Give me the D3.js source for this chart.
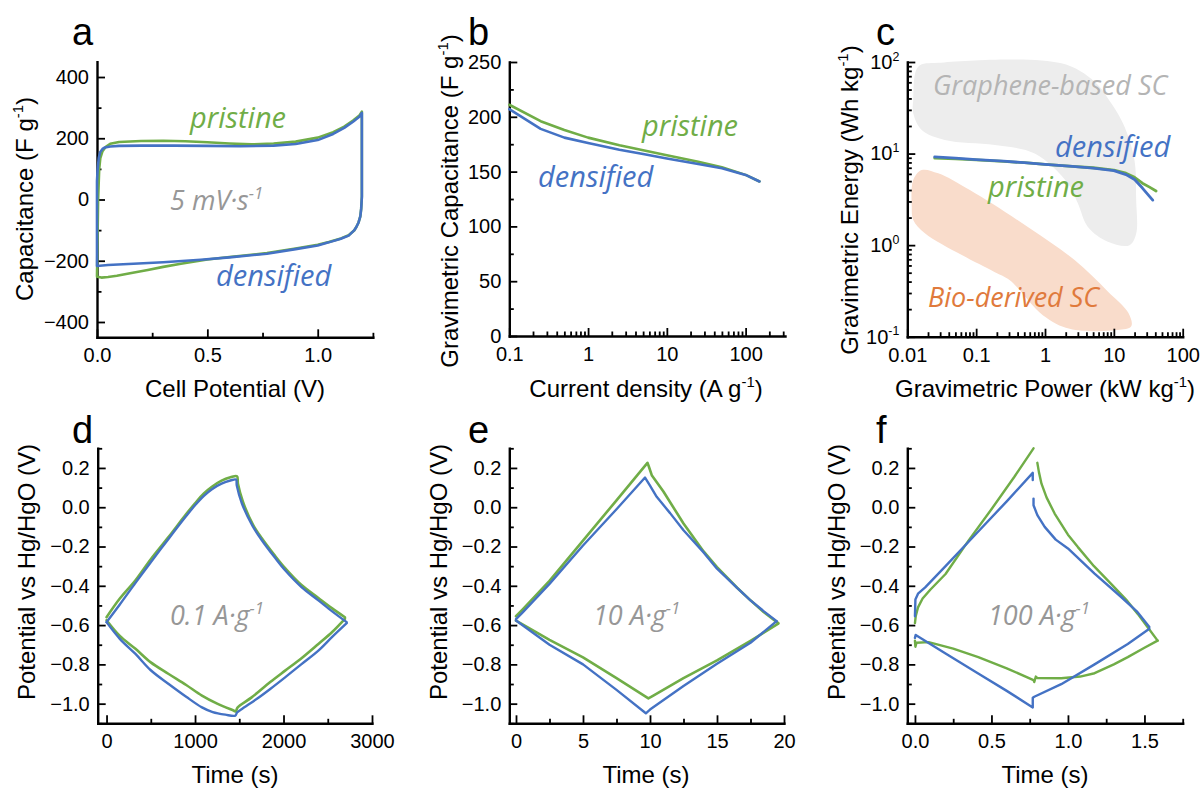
<!DOCTYPE html>
<html>
<head>
<meta charset="utf-8">
<script src="https://cdn.jsdelivr.net/npm/d3@7"></script>
<style>
  body { margin: 0; background: #fff; }
  svg { display: block; }
</style>
</head>
<body>
<script>
// ---------- (a) cyclic voltammetry, 5 mV/s: cell potential (V) and capacitance (F/g), one full loop ----------
const cvPristineV = [0, 0.005, 0.01, 0.015, 0.025, 0.04, 0.06, 0.1, 0.2, 0.3, 0.4, 0.5, 0.6, 0.7, 0.8, 0.9, 1.0, 1.07, 1.12, 1.16, 1.19, 1.2,
  1.2, 1.2, 1.197, 1.193, 1.185, 1.175, 1.165, 1.14, 1.105, 1.05, 1.0, 0.9, 0.77, 0.6, 0.5, 0.38, 0.3, 0.23, 0.15, 0.09, 0.05, 0.02, 0];
const cvPristineC = [-250, 0, 100, 135, 158, 172, 182, 188, 191, 192, 190, 187, 183, 180, 183, 189, 202, 220, 238, 258, 275, 287,
  150, 10, -30, -55, -75, -90, -101, -117, -127, -139, -148, -160, -175, -188, -196, -210, -220, -230, -241, -249, -253, -255, -252];
const cvDensifiedV = [0, 0, 0.003, 0.008, 0.014, 0.025, 0.036, 0.06, 0.1, 0.2, 0.35, 0.5, 0.65, 0.8, 0.9, 1.0, 1.07, 1.12, 1.16, 1.19, 1.2,
  1.2, 1.2, 1.197, 1.193, 1.185, 1.175, 1.165, 1.14, 1.105, 1.05, 1.0, 0.9, 0.77, 0.6, 0.47, 0.3, 0.165, 0.05, 0];
const cvDensifiedC = [-217, 60, 100, 135, 154, 165, 170, 173, 175, 176, 176, 175, 174, 176, 181, 194, 214, 234, 254, 271, 283,
  150, 8, -30, -55, -75, -90, -101, -118, -128, -140, -150, -162, -177, -189, -197, -205, -210, -214, -217];

// ---------- (b) rate capability ----------
const rateCurrent = [0.1, 0.25, 0.5, 1, 2.5, 5, 10, 25, 50, 100, 150];
const ratePristine = [211, 196, 188, 181, 174, 169.5, 165, 159, 154, 147, 141];
const rateDensified = [207, 189, 181, 176, 170, 166, 162, 157, 153, 147, 141];

// ---------- (c) Ragone plot ----------
const ragonePowerPristine = [0.025, 0.05, 0.1, 0.25, 0.5, 1, 2.5, 5, 10, 15, 20, 26, 33, 41];
const ragoneEnergyPristine = [8.9, 8.75, 8.55, 8.2, 7.95, 7.6, 7.25, 7.0, 6.6, 6.1, 5.5, 4.75, 4.3, 3.9];
const ragonePowerDensified = [0.025, 0.05, 0.1, 0.25, 0.5, 1, 2.5, 5, 10, 15, 20, 26, 32, 36.7];
const ragoneEnergyDensified = [9.2, 8.9, 8.6, 8.25, 7.95, 7.6, 7.25, 6.95, 6.5, 5.9, 5.2, 4.2, 3.5, 3.1];
// literature regions (power kW/kg, energy Wh/kg) outlining each family of devices
const grapheneRegionP = [0.0122, 0.0144, 0.0281, 1.73, 5.25, 9.16, 14.3, 19.9, 21.1, 21.1, 16.9, 8.18, 4.2, 3.0, 2.15, 0.71, 0.187, 0.035, 0.0162, 0.0122];
const grapheneRegionE = [38.4, 88.9, 98, 96.8, 61, 35.4, 19.6, 8.5, 3.1, 1.34, 1.0, 1.09, 1.58, 2.86, 4.72, 10, 12.4, 14.1, 18.1, 27.5];
const bioRegionP = [0.0116, 0.0122, 0.0162, 0.0281, 0.081, 0.60, 2.69, 8.1, 16.3, 17.9, 11.3, 2.28, 0.93, 0.308, 0.187, 0.062, 0.018, 0.0122];
const bioRegionE = [2.62, 5.13, 6.6, 6.08, 3.99, 1.53, 0.686, 0.314, 0.181, 0.130, 0.118, 0.122, 0.172, 0.414, 0.507, 0.778, 1.35, 1.88];

// ---------- (d) galvanostatic cycle at 0.1 A/g: [time s, potential V] ----------
const gcdSlowPristinePos = [[0,-0.56],[150,-0.465],[327,-0.372],[500,-0.265],[702,-0.151],[900,-0.035],[1000,0.02],[1100,0.07],[1191,0.104],[1300,0.135],[1400,0.152],[1474,0.158],[1485,0.12],[1540,0.03],[1650,-0.085],[1755,-0.158],[1900,-0.245],[2018,-0.31],[2200,-0.395],[2394,-0.462],[2550,-0.515],[2694,-0.56]];
const gcdSlowPristineNeg = [[0,-0.575],[150,-0.655],[327,-0.721],[500,-0.79],[702,-0.849],[900,-0.905],[1078,-0.959],[1250,-1.0],[1440,-1.036],[1460,-1.04],[1480,-1.02],[1640,-0.968],[1850,-0.89],[2018,-0.832],[2200,-0.77],[2394,-0.696],[2550,-0.635],[2694,-0.568]];
const gcdSlowDensifiedPos = [[0,-0.585],[150,-0.495],[327,-0.385],[500,-0.28],[702,-0.16],[900,-0.045],[1000,0.01],[1100,0.058],[1191,0.092],[1300,0.12],[1400,0.136],[1463,0.141],[1472,0.11],[1530,0.019],[1650,-0.095],[1755,-0.168],[1900,-0.255],[2018,-0.321],[2200,-0.405],[2394,-0.474],[2550,-0.53],[2714,-0.585]];
const gcdSlowDensifiedNeg = [[0,-0.585],[150,-0.67],[327,-0.747],[500,-0.83],[702,-0.9],[900,-0.965],[1078,-1.019],[1200,-1.043],[1342,-1.056],[1455,-1.061],[1475,-1.045],[1530,-1.027],[1700,-0.975],[1850,-0.925],[2018,-0.866],[2200,-0.8],[2394,-0.73],[2550,-0.66],[2714,-0.59]];

// ---------- (e) galvanostatic cycle at 10 A/g ----------
const gcdMidPristinePos = [[0,-0.555],[0.5,-0.52],[2.5,-0.375],[5,-0.17],[7.5,0.035],[9.81,0.226],[9.9,0.21],[10.13,0.163],[11,0.08],[12.5,-0.083],[14,-0.225],[15,-0.305],[16.5,-0.41],[17.5,-0.474],[18.5,-0.535],[19.57,-0.59]];
const gcdMidPristineNeg = [[0,-0.577],[2.5,-0.675],[5,-0.764],[7.5,-0.87],[9.88,-0.973],[10.25,-0.959],[12.5,-0.87],[15,-0.78],[17.5,-0.68],[19.57,-0.593]];
const gcdMidDensifiedPos = [[0,-0.57],[0.5,-0.535],[2.5,-0.39],[5,-0.195],[7.5,-0.01],[9.63,0.151],[10,0.11],[10.5,0.053],[11.5,-0.03],[12.5,-0.117],[14,-0.23],[15,-0.313],[16.5,-0.41],[17.5,-0.474],[18.5,-0.53],[19.45,-0.58]];
const gcdMidDensifiedNeg = [[0,-0.577],[2.5,-0.7],[5,-0.8],[7.5,-0.93],[9.69,-1.049],[10,-1.03],[12.5,-0.91],[15,-0.797],[17.5,-0.69],[19.45,-0.58]];

// ---------- (f) galvanostatic cycle at 100 A/g (charge and discharge logged as separate segments) ----------
const gcdFastPristinePos = [[0,-0.59],[0.005,-0.555],[0.02,-0.51],[0.05,-0.465],[0.1,-0.42],[0.2,-0.34],[0.35,-0.17],[0.5,-0.01],[0.65,0.155],[0.775,0.30]];
const gcdFastPristinePosB = [[0.8,0.226],[0.81,0.18],[0.827,0.12],[0.86,0.05],[0.913,-0.032],[1.0,-0.14],[1.065,-0.203],[1.17,-0.3],[1.282,-0.39],[1.38,-0.47],[1.456,-0.543],[1.52,-0.61],[1.586,-0.679]];
const gcdFastPristineNeg = [[0,-0.68],[0.003,-0.71],[0.01,-0.69],[0.089,-0.687],[0.25,-0.72],[0.414,-0.763],[0.6,-0.82],[0.775,-0.88],[0.78,-0.89],[0.79,-0.862],[0.8,-0.87],[0.956,-0.871],[1.08,-0.862],[1.174,-0.845],[1.3,-0.8],[1.391,-0.763],[1.5,-0.715],[1.586,-0.679]];
const gcdFastDensifiedPos = [[0,-0.555],[0.003,-0.47],[0.02,-0.44],[0.067,-0.408],[0.2,-0.3],[0.4,-0.135],[0.6,0.03],[0.77,0.175],[0.77,0.138]];
const gcdFastDensifiedPosB = [[0.775,0.044],[0.775,0.01],[0.8,-0.04],[0.848,-0.1],[0.92,-0.165],[1.0,-0.21],[1.174,-0.338],[1.348,-0.457],[1.45,-0.53],[1.532,-0.61]];
const gcdFastDensifiedNeg = [[0,-0.665],[0.005,-0.65],[0.2,-0.745],[0.4,-0.84],[0.6,-0.935],[0.77,-1.019],[0.77,-0.97],[0.78,-0.965],[0.956,-0.901],[1.174,-0.8],[1.391,-0.696],[1.532,-0.619]];

// ---------- tick values ----------
const cvTicksX = [0, 0.5, 1.0], cvMinorX = [0.25, 0.75, 1.25];
const cvTicksY = [-400, -200, 0, 200, 400], cvMinorY = [-300, -100, 100, 300];
const rateTicksX = [0.1, 1, 10, 100], rateTicksY = [0, 50, 100, 150, 200, 250], rateMinorY = [25, 75, 125, 175, 225];
const ragoneTicksX = [0.01, 0.1, 1, 10, 100], ragoneTicksY = [0.1, 1, 10, 100];
const gcdTicksY = [-1.0, -0.8, -0.6, -0.4, -0.2, 0.0, 0.2], gcdMinorY = [-1.1, -0.9, -0.7, -0.5, -0.3, -0.1, 0.1, 0.3];
const slowTicksX = [0, 1000, 2000, 3000], slowMinorX = [500, 1500, 2500];
const midTicksX = [0, 5, 10, 15, 20], midMinorX = [2.5, 7.5, 12.5, 17.5];
const fastTicksX = [0.0, 0.5, 1.0, 1.5], fastMinorX = [0.25, 0.75, 1.25, 1.75];

// ---------- drawing ----------
const BLUE = "#4472c4", GREEN = "#70ad47";
const AXIS_FONT = '"Liberation Sans", Arial, Helvetica, sans-serif';
const NOTE_FONT = '"Open Sans", "Noto Sans", sans-serif';
const LW = 2.6;

const svg = d3.select("body").append("svg").attr("width", 1204).attr("height", 789);

function logMinors(lo, hi) {
  const out = [];
  for (let d = lo; d < hi; d *= 10) for (let k = 2; k <= 9; k++) out.push(+(d * k).toPrecision(3));
  return out;
}

function richText(sel, parts, size) {
  let lift = 0;
  parts.forEach(p => {
    const sup = p.startsWith("^");
    const t = sel.append("tspan").text(sup ? p.slice(1) : p);
    if (sup) { t.attr("font-size", size * 0.62).attr("dy", -size * 0.42); lift = size * 0.42; }
    else if (lift) { t.attr("dy", lift); lift = 0; }
  });
  return sel;
}

function drawAxes(x, y, o) {
  const g = svg.append("g");
  const yb = y.range()[0], xl = x.range()[0];
  g.append("g").attr("transform", `translate(0,${yb})`)
    .call(d3.axisBottom(x).tickValues(o.xMinor).tickSize(-4.5).tickFormat(""))
    .call(s => s.select(".domain").remove());
  g.append("g").attr("transform", `translate(${xl},0)`)
    .call(d3.axisLeft(y).tickValues(o.yMinor).tickSize(-4.5).tickFormat(""))
    .call(s => s.select(".domain").remove());
  const gx = g.append("g").attr("transform", `translate(0,${yb})`)
    .call(d3.axisBottom(x).tickValues(o.xMajor).tickSize(-8).tickSizeOuter(0).tickPadding(11).tickFormat(o.xFormat));
  const gy = g.append("g").attr("transform", `translate(${xl},0)`)
    .call(d3.axisLeft(y).tickValues(o.yMajor).tickSize(-8).tickSizeOuter(0).tickPadding(8).tickFormat(o.yFormat));
  g.selectAll(".domain").attr("stroke", "#000").attr("stroke-width", 2.4).attr("stroke-linecap", "square");
  g.selectAll(".tick line").attr("stroke", "#000").attr("stroke-width", 1.8);
  g.selectAll(".tick text").attr("font-family", AXIS_FONT).attr("font-size", 20).attr("fill", "#000");
  return { gx, gy };
}

function xTitle(cx, y, parts) {
  richText(svg.append("text").attr("x", cx).attr("y", y).attr("text-anchor", "middle")
    .attr("font-family", AXIS_FONT).attr("font-size", 24).attr("fill", "#000"), parts, 24);
}
function yTitle(bx, cy, parts) {
  richText(svg.append("text").attr("transform", `translate(${bx},${cy}) rotate(-90)`).attr("text-anchor", "middle")
    .attr("font-family", AXIS_FONT).attr("font-size", 24).attr("fill", "#000"), parts, 24);
}
function panelLetter(x, y, s) {
  svg.append("text").attr("x", x).attr("y", y).text(s)
    .attr("font-family", AXIS_FONT).attr("font-size", 38).attr("fill", "#000");
}
function note(x, y, parts, color, size = 27) {
  richText(svg.append("text").attr("x", x).attr("y", y).attr("font-family", NOTE_FONT)
    .attr("font-style", "italic").attr("font-size", size).attr("fill", color), parts, size);
}
function trace(x, y, xs, ys, color, width = LW) {
  const pts = xs.map((v, i) => [v, ys[i]]);
  svg.append("path").datum(pts).attr("fill", "none").attr("stroke", color).attr("stroke-width", width)
    .attr("stroke-linejoin", "round").attr("stroke-linecap", "round")
    .attr("d", d3.line().x(d => x(d[0])).y(d => y(d[1])));
}
function tracePairs(x, y, pts, color, width = LW, curve = d3.curveLinear) {
  svg.append("path").datum(pts).attr("fill", "none").attr("stroke", color).attr("stroke-width", width)
    .attr("stroke-linejoin", "round").attr("stroke-linecap", "round")
    .attr("d", d3.line().curve(curve).x(d => x(d[0])).y(d => y(d[1])));
}

// ===== (a) =====
{
  const x = d3.scaleLinear().domain([0, 1.25]).range([97, 372.9]);
  const y = d3.scaleLinear().domain([-450, 450]).range([337.3, 61.7]);
  drawAxes(x, y, { xMajor: cvTicksX, xMinor: cvMinorX, yMajor: cvTicksY, yMinor: cvMinorY,
    xFormat: d3.format(".1f"), yFormat: d3.format("d") });
  trace(x, y, cvPristineV, cvPristineC, GREEN);
  trace(x, y, cvDensifiedV, cvDensifiedC, BLUE);
  xTitle(235, 397, ["Cell Potential (V)"]);
  yTitle(33, 199, ["Capacitance (F g", "^-1", ")"]);
  panelLetter(72, 45, "a");
  note(190, 128, ["pristine"], GREEN, 29);
  note(216, 286, ["densified"], BLUE, 29);
  note(170, 210, ["5 mV·s", "^-1"], "#979797");
}

// ===== (b) =====
{
  const x = d3.scaleLog().domain([0.1, 316.2]).range([509.3, 785]);
  const y = d3.scaleLinear().domain([0, 250]).range([336, 62]);
  drawAxes(x, y, { xMajor: rateTicksX, xMinor: logMinors(0.1, 100).concat([200, 300]), yMajor: rateTicksY, yMinor: rateMinorY,
    xFormat: d => (d < 1 ? "0.1" : d3.format("d")(d)), yFormat: d3.format("d") });
  trace(x, y, rateCurrent, ratePristine, GREEN);
  trace(x, y, rateCurrent, rateDensified, BLUE);
  xTitle(646, 397, ["Current density (A g", "^-1", ")"]);
  yTitle(458, 201, ["Gravimetric Capacitance (F g", "^-1", ")"]);
  panelLetter(468, 45, "b");
  note(642, 136, ["pristine"], GREEN, 29);
  note(538, 187, ["densified"], BLUE, 29);
}

// ===== (c) =====
{
  const x = d3.scaleLog().domain([0.01, 100]).range([907.3, 1182.7]);
  const y = d3.scaleLog().domain([0.1, 100]).range([336.7, 62]);
  const blob = d3.line().curve(d3.curveCatmullRomClosed.alpha(0.5)).x(d => x(d[0])).y(d => y(d[1]));
  svg.append("path").datum(grapheneRegionP.map((p, i) => [p, grapheneRegionE[i]]))
    .attr("d", blob).attr("fill", "#ededed");
  svg.append("path").datum(bioRegionP.map((p, i) => [p, bioRegionE[i]]))
    .attr("d", blob).attr("fill", "#f9dccb");
  const ax = drawAxes(x, y, { xMajor: ragoneTicksX, xMinor: logMinors(0.01, 100), yMajor: ragoneTicksY, yMinor: logMinors(0.1, 100),
    xFormat: d => String(d), yFormat: d => String(d) });
  ax.gy.selectAll(".tick text").each(function (d) {
    const t = d3.select(this).text("");
    richText(t, ["10", "^" + Math.round(Math.log10(d))], 20);
  });
  trace(x, y, ragonePowerPristine, ragoneEnergyPristine, GREEN, 2.8);
  trace(x, y, ragonePowerDensified, ragoneEnergyDensified, BLUE, 2.8);
  xTitle(1045, 397, ["Gravimetric Power (kW kg", "^-1", ")"]);
  yTitle(858, 200, ["Gravimetric Energy (Wh kg", "^-1", ")"]);
  panelLetter(876, 45, "c");
  note(933, 95, ["Graphene-based SC"], "#b4b4b4");
  note(1055, 157, ["densified"], BLUE, 29);
  note(988, 197, ["pristine"], GREEN, 29);
  note(928, 307, ["Bio-derived SC"], "#e07a3c");
}

// ===== (d), (e), (f) =====
const yGcd = d3.scaleLinear().domain([-1.1, 0.3]).range([723.3, 448.3]);
const gcdFmt = d3.format(".1f");
{
  const x = d3.scaleLinear().domain([-100, 3000]).range([97.7, 372]);
  drawAxes(x, yGcd, { xMajor: slowTicksX, xMinor: slowMinorX, yMajor: gcdTicksY, yMinor: gcdMinorY,
    xFormat: d3.format("d"), yFormat: gcdFmt });
  const smooth = d3.curveCatmullRom.alpha(0.5);
  [gcdSlowPristinePos, gcdSlowPristineNeg].forEach(p => tracePairs(x, yGcd, p, GREEN, LW, smooth));
  [gcdSlowDensifiedPos, gcdSlowDensifiedNeg].forEach(p => tracePairs(x, yGcd, p, BLUE, 2.4, smooth));
  xTitle(235, 783, ["Time (s)"]);
  yTitle(35, 572, ["Potential vs Hg/HgO (V)"]);
  panelLetter(72, 443, "d");
  note(170, 625, ["0.1 A·g", "^-1"], "#979797");
}
{
  const x = d3.scaleLinear().domain([-0.5, 20]).range([509.3, 784]);
  drawAxes(x, yGcd, { xMajor: midTicksX, xMinor: midMinorX, yMajor: gcdTicksY, yMinor: gcdMinorY,
    xFormat: d3.format("d"), yFormat: gcdFmt });
  [gcdMidPristinePos, gcdMidPristineNeg].forEach(p => tracePairs(x, yGcd, p, GREEN, LW));
  [gcdMidDensifiedPos, gcdMidDensifiedNeg].forEach(p => tracePairs(x, yGcd, p, BLUE, 2.4));
  xTitle(646, 783, ["Time (s)"]);
  yTitle(447, 572, ["Potential vs Hg/HgO (V)"]);
  panelLetter(468, 443, "e");
  note(593, 625, ["10 A·g", "^-1"], "#979797");
}
{
  const x = d3.scaleLinear().domain([-0.05, 1.75]).range([907.3, 1182.7]);
  drawAxes(x, yGcd, { xMajor: fastTicksX, xMinor: fastMinorX, yMajor: gcdTicksY, yMinor: gcdMinorY,
    xFormat: d3.format(".1f"), yFormat: gcdFmt });
  [gcdFastPristinePos, gcdFastPristinePosB, gcdFastPristineNeg].forEach(p => tracePairs(x, yGcd, p, GREEN, 2.4));
  [gcdFastDensifiedPos, gcdFastDensifiedPosB, gcdFastDensifiedNeg].forEach(p => tracePairs(x, yGcd, p, BLUE, 2.4));
  xTitle(1045, 783, ["Time (s)"]);
  yTitle(845, 572, ["Potential vs Hg/HgO (V)"]);
  panelLetter(876, 443, "f");
  note(988, 625, ["100 A·g", "^-1"], "#979797");
}
</script>
</body>
</html>
